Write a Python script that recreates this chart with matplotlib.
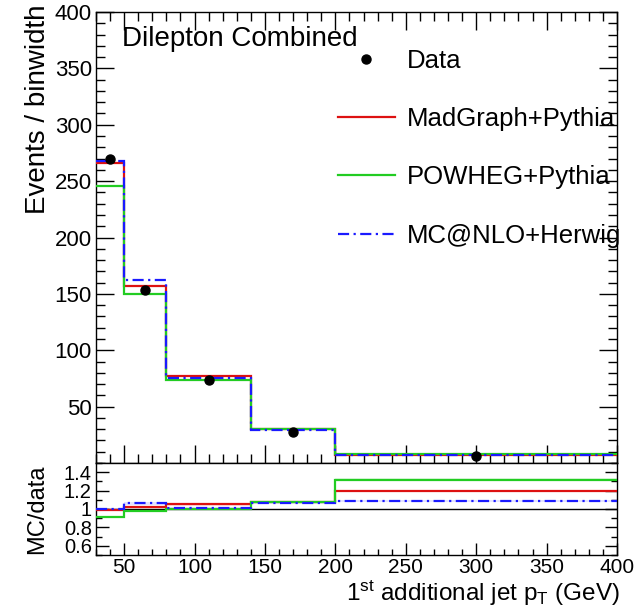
import numpy as np
import matplotlib
matplotlib.use("Agg")
import matplotlib.pyplot as plt
from matplotlib.ticker import MultipleLocator, FixedLocator
from matplotlib.lines import Line2D

plt.rcParams["font.family"] = ["Liberation Sans", "DejaVu Sans"]
plt.rcParams["mathtext.fontset"] = "custom"
plt.rcParams["mathtext.rm"] = "Liberation Sans"
plt.rcParams["mathtext.it"] = "Liberation Sans"

# Binning of the leading additional jet pT (GeV)
bin_edges = [30, 50, 80, 140, 200, 400]
bin_centers = [40, 65, 110, 170, 300]

# Events / binwidth
data_vals = [270.0, 153.0, 73.5, 27.7, 6.2]
madgraph_vals = [266.5, 157.0, 77.0, 29.8, 7.4]
powheg_vals = [246.0, 149.5, 73.5, 29.9, 8.2]
mcatnlo_vals = [268.0, 162.0, 75.0, 29.5, 6.7]

# MC / data ratios
madgraph_ratio = [0.99, 1.025, 1.05, 1.08, 1.195]
powheg_ratio = [0.91, 0.98, 1.00, 1.08, 1.32]
mcatnlo_ratio = [1.00, 1.06, 1.015, 1.065, 1.086]

labels = ["Data", "MadGraph+Pythia", "POWHEG+Pythia", "MC@NLO+Herwig"]

RED = "#dd1111"
GREEN = "#22cc22"
BLUE = "#1a1aff"
DASHDOT = (0, (5, 2, 1, 2))

fig = plt.figure(figsize=(6.42, 6.11), dpi=100)
W, H = 642, 611
left, right = 96 / W, 617 / W
ax = fig.add_axes([left, 1 - 463 / H, right - left, (463 - 12) / H])
rx = fig.add_axes([left, 1 - 555 / H, right - left, (555 - 463) / H])

edges = np.array(bin_edges)

# main panel
ax.stairs(madgraph_vals, edges, baseline=None, color=RED, lw=1.6, zorder=3)
ax.stairs(powheg_vals, edges, baseline=None, color=GREEN, lw=1.6, zorder=3)
ax.stairs(mcatnlo_vals, edges, baseline=None, color=BLUE, lw=1.6,
          linestyle=DASHDOT, zorder=4)
ax.plot(bin_centers, data_vals, "o", color="black", ms=6.5, zorder=5)

ax.set_xlim(30, 400)
ax.set_ylim(0, 400)
ax.yaxis.set_major_locator(FixedLocator([50, 100, 150, 200, 250, 300, 350, 400]))
ax.yaxis.set_minor_locator(MultipleLocator(10))
ax.xaxis.set_major_locator(MultipleLocator(50))
ax.xaxis.set_minor_locator(MultipleLocator(10))
ax.tick_params(which="both", direction="in", top=True, right=True,
               labelbottom=False, labelsize=16, width=1.0, pad=3)
ax.tick_params(which="major", length=13)
ax.tick_params(which="minor", length=6.5)
for s in ax.spines.values():
    s.set_linewidth(1.0)

ax.text(0.05, 0.94, "Dilepton Combined", transform=ax.transAxes,
        fontsize=20, ha="left", va="center")

handles = [
    Line2D([], [], ls="none", marker="o", color="black", ms=6.5),
    Line2D([], [], color=RED, lw=1.6),
    Line2D([], [], color=GREEN, lw=1.6),
    Line2D([], [], color=BLUE, lw=1.6, linestyle=DASHDOT),
]
ax.legend(handles, labels, loc="upper left", bbox_to_anchor=(0.4645, 0.919),
          frameon=False, fontsize=18.5, labelspacing=1.34, handlelength=2.2,
          handletextpad=0.47, borderpad=0, borderaxespad=0)

fig.text(38 / W, 1 - 5 / H, "Events / binwidth", rotation=90, ha="center",
         va="top", fontsize=20)

# ratio panel
rx.axhline(1.0, color="black", lw=1.0, zorder=2)
for vals, col, ls, z in [(madgraph_ratio, RED, "-", 3),
                         (powheg_ratio, GREEN, "-", 3),
                         (mcatnlo_ratio, BLUE, DASHDOT, 4)]:
    v = np.array(vals)
    rx.stairs(v + 0.012, edges, baseline=v - 0.012, fill=True, color=col,
              alpha=0.12, lw=0, zorder=1)
    rx.stairs(v, edges, baseline=None, color=col, lw=1.6, linestyle=ls, zorder=z)

rx.set_xlim(30, 400)
rx.set_ylim(0.5, 1.5)
rx.yaxis.set_major_locator(FixedLocator([0.6, 0.8, 1.0, 1.2, 1.4]))
rx.yaxis.set_minor_locator(MultipleLocator(0.1))
rx.set_yticklabels(["0.6", "0.8", "1", "1.2", "1.4"])
rx.xaxis.set_major_locator(MultipleLocator(50))
rx.xaxis.set_minor_locator(MultipleLocator(10))
rx.tick_params(which="both", direction="in", right=True, width=1.0, pad=3)
rx.tick_params(axis="y", labelsize=14.5)
rx.tick_params(axis="x", labelsize=15, pad=2)
rx.tick_params(which="major", length=9)
rx.tick_params(which="minor", length=4.5)
for s in rx.spines.values():
    s.set_linewidth(1.0)

fig.text(37 / W, 1 - 509 / H, "MC/data", rotation=90, ha="center",
         va="center", fontsize=17)
fig.text(620 / W, 1 - 601 / H, r"1$^{\mathrm{st}}$ additional jet p$_{\mathrm{T}}$ (GeV)",
         ha="right", va="baseline", fontsize=17.5)

fig.savefig("out.png", dpi=100)
